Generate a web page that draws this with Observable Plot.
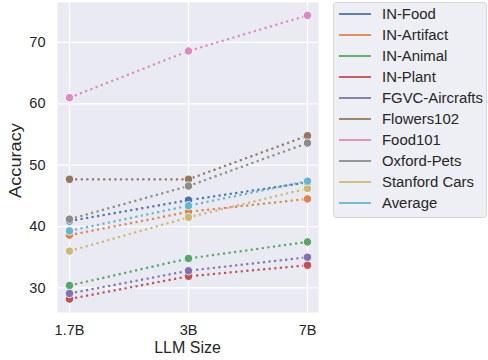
<!DOCTYPE html>
<html><head><meta charset="utf-8">
<script src="https://cdn.jsdelivr.net/npm/d3@7"></script>
<script src="https://cdn.jsdelivr.net/npm/@observablehq/plot@0.6"></script>
<style>body{margin:0;background:#fff;font-family:"Liberation Sans",Arial,sans-serif}</style>
</head><body><div id="chart"></div>
<script>
const sizes = ["1.7B", "3B", "7B"];
const seriesNames = ["IN-Food","IN-Artifact","IN-Animal","IN-Plant","FGVC-Aircrafts","Flowers102","Food101","Oxford-Pets","Stanford Cars","Average"];
const colors = ["#4C72B0","#DD8452","#55A868","#C44E52","#8172B3","#937860","#DA8BC3","#8C8C8C","#CCB974","#64B5CD"];
const inFood = [40.9, 44.3, 47.2];
const inArtifact = [38.6, 42.4, 44.5];
const inAnimal = [30.4, 34.8, 37.5];
const inPlant = [28.2, 31.9, 33.7];
const fgvc = [29.1, 32.8, 35.0];
const flowers = [47.7, 47.7, 54.8];
const food101 = [61.0, 68.6, 74.4];
const pets = [41.2, 46.6, 53.6];
const cars = [36.0, 41.5, 46.2];
const average = [39.3, 43.4, 47.4];
const yTicks = [30, 40, 50, 60, 70];

const allValues = [inFood, inArtifact, inAnimal, inPlant, fgvc, flowers, food101, pets, cars, average];
const data = [];
allValues.forEach((vals, i) => vals.forEach((v, j) => data.push({series: seriesNames[i], size: sizes[j], acc: v})));

const W = 488, H = 360, mL = 57, mR = 170, mT = 2, mB = 48;
const marks = [
  Plot.frame({fill: "#EAEAF2", stroke: null}),
  Plot.gridY(yTicks, {stroke: "#fff", strokeOpacity: 1, strokeWidth: 1.2}),
  Plot.gridX(sizes, {stroke: "#fff", strokeOpacity: 1, strokeWidth: 1.2}),
  Plot.axisY(yTicks, {tickSize: 0, tickPadding: 12, fontSize: 14.5, fill: "#262626", label: null}),
  Plot.axisX(sizes, {tickSize: 0, tickPadding: 12, fontSize: 14.5, fill: "#262626", label: null})
];
seriesNames.forEach((s, i) => {
  const d = data.filter(r => r.series === s);
  marks.push(Plot.line(d, {x: "size", y: "acc", stroke: colors[i], strokeWidth: 2.2, strokeDasharray: "2.2,3.4", strokeLinecap: "butt"}));
  marks.push(Plot.dot(d, {x: "size", y: "acc", r: 4.2, fill: colors[i], stroke: "#fff", strokeWidth: 0.8}));
});

const chart = Plot.plot({
  width: W, height: H, marginLeft: mL, marginRight: mR, marginTop: mT, marginBottom: mB,
  style: {fontFamily: "'Liberation Sans', Arial, sans-serif", background: "#fff", overflow: "visible"},
  x: {type: "point", domain: sizes, padding: 0.095},
  y: {domain: [26.0, 76.5], ticks: yTicks},
  marks
});
document.getElementById("chart").appendChild(chart);

const svg = d3.select(chart);
svg.append("text").attr("x", (mL + W - mR) / 2).attr("y", 353).attr("text-anchor", "middle")
  .attr("font-size", 16).attr("fill", "#262626").text("LLM Size");
svg.append("text").attr("transform", `translate(20.5,160.5) rotate(-90)`).attr("text-anchor", "middle")
  .attr("font-size", 16.5).attr("textLength", 75).attr("lengthAdjust", "spacingAndGlyphs")
  .attr("fill", "#262626").text("Accuracy");

const lg = svg.append("g");
lg.append("rect").attr("x", 333.5).attr("y", 2.5).attr("width", 153).attr("height", 215).attr("rx", 3)
  .attr("fill", "#EEEEF5").attr("stroke", "#D6D6D6");
seriesNames.forEach((s, i) => {
  const y = 14 + i * 21;
  lg.append("line").attr("x1", 339).attr("x2", 371).attr("y1", y).attr("y2", y).attr("stroke", colors[i]).attr("stroke-width", 1.8);
  lg.append("text").attr("x", 382).attr("y", y).attr("dy", "0.36em").attr("text-anchor", "start")
    .attr("font-size", 14.9).attr("fill", "#262626").text(s);
});
</script></body></html>
